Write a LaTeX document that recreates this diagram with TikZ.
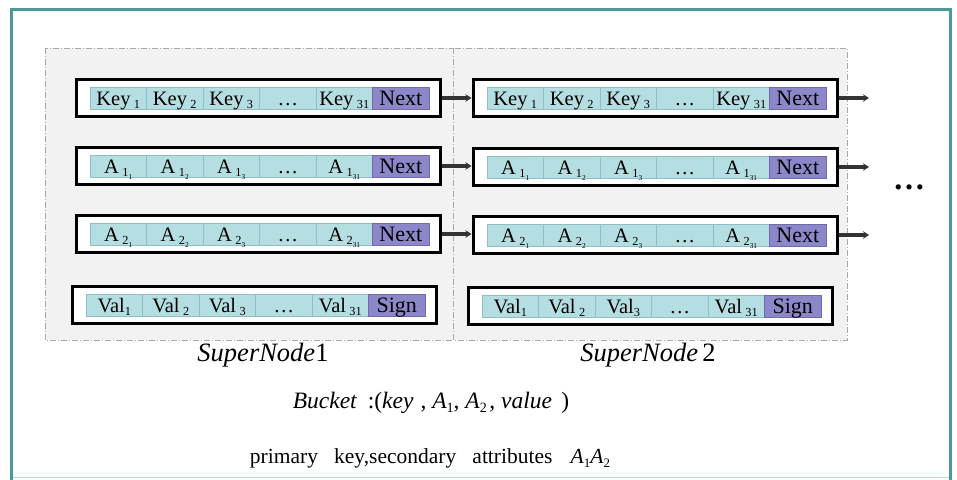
\documentclass[tikz,border=0pt]{standalone}
\usepackage{fontspec}
\setmainfont{Liberation Serif}
\usetikzlibrary{arrows.meta}

\definecolor{cellfill}{HTML}{B5DEE2}
\definecolor{celledge}{HTML}{8DBFC4}
\definecolor{nextfill}{HTML}{8C87C9}
\definecolor{nextedge}{HTML}{6F6AAE}
\definecolor{panelfill}{HTML}{F2F2F2}
\definecolor{paneledge}{HTML}{A8A8A8}
\definecolor{frameteal}{HTML}{4C9A98}
\definecolor{framelight}{HTML}{A8DCE0}
\definecolor{linkgray}{HTML}{333333}

% lowered, reduced subscript usable in text mode
\newcommand{\low}[1]{\raisebox{-0.4ex}{\scalebox{0.6}{#1}}}

\tikzset{
  panel/.style={draw=paneledge, fill=panelfill, line width=0.8pt,
    dash pattern=on 6pt off 2pt on 1pt off 2pt},
  wrapbox/.style={draw=black, fill=white, line width=3pt,
    minimum width=364pt, minimum height=37pt, inner sep=0pt},
  cell/.style={draw=celledge, fill=cellfill, line width=0.6pt,
    minimum width=56.5pt, minimum height=22pt, inner sep=0pt,
    text height=17pt, text depth=3pt,
    font=\fontsize{20.5}{22}\selectfont},
  tailcell/.style={cell, draw=nextedge, fill=nextfill,
    font=\fontsize{22}{24}\selectfont},
  link/.style={draw=linkgray, line width=3.5pt,
    -{Stealth[length=6pt,width=7.5pt]}},
  caption/.style={inner sep=0pt, font=\fontsize{26.5}{28}\selectfont},
}

% one bucket row: name, left x of the slot strip, centre y, five slot labels, tail label
\newcommand{\slotrow}[5]{%
  \node[wrapbox] (#1) at ({#2+168},#3) {};
  \foreach \lbl [count=\i] in {#4} {
    \node[cell] (#1-\i) at ({#2+(\i-0.5)*56.5},#3) {\lbl};
  }
  \node[tailcell] (#1-6) at ({#2+5.5*56.5},#3) {#5};
}

\begin{document}
\begin{tikzpicture}[x=1pt,y=-1pt]
  \useasboundingbox (0,0) rectangle (957,479);

  % outer frame
  \draw[framelight, line width=1.5pt] (11,477.5) -- (951,477.5);
  \draw[frameteal, line width=3pt] (11.5,480) -- (11.5,9.5) -- (950.5,9.5) -- (950.5,480);

  % the two super nodes
  \draw[panel] (45,48) rectangle (453,340);
  \draw[panel] (453,48) rectangle (847,340);

  % super node 1
  \slotrow{k1}{90}{98}{Key\,\low{1}, Key\,\low{2}, Key\,\low{3}, …, Key\,\low{31}}{Next}
  \slotrow{a1}{90}{166}{A\,\low{1\low{1}}, A\,\low{1\low{2}}, A\,\low{1\low{3}}, …, A\,\low{1\low{31}}}{Next}
  \slotrow{b1}{90}{234}{A\,\low{2\low{1}}, A\,\low{2\low{2}}, A\,\low{2\low{3}}, …, A\,\low{2\low{31}}}{Next}
  \slotrow{v1}{86}{305}{Val\low{1}, Val\,\low{2}, Val\,\low{3}, …, Val\,\low{31}}{Sign}

  % super node 2
  \slotrow{k2}{487}{98}{Key\,\low{1}, Key\,\low{2}, Key\,\low{3}, …, Key\,\low{31}}{Next}
  \slotrow{a2}{487}{167}{A\,\low{1\low{1}}, A\,\low{1\low{2}}, A\,\low{1\low{3}}, …, A\,\low{1\low{31}}}{Next}
  \slotrow{b2}{487}{235}{A\,\low{2\low{1}}, A\,\low{2\low{2}}, A\,\low{2\low{3}}, …, A\,\low{2\low{31}}}{Next}
  \slotrow{v2}{482}{306}{Val\low{1}, Val\,\low{2}, Val\low{3}, …, Val\,\low{31}}{Sign}

  % next pointers
  \coordinate (k3) at (869,98);
  \coordinate (a3) at (869,167);
  \coordinate (b3) at (869,235);
  \draw[link] (k1.east) -- (k1.east -| k2.west);
  \draw[link] (a1.east) -- (a1.east -| a2.west);
  \draw[link] (b1.east) -- (b1.east -| b2.west);
  \draw[link] (k2.east) -- (k3);
  \draw[link] (a2.east) -- (a3);
  \draw[link] (b2.east) -- (b3);

  \node[inner sep=0pt, font=\fontsize{32}{32}\selectfont\bfseries] (more) at (909,187) {…};

  % captions
  \node[caption] (sn1) at (263,355) {\textit{SuperNode}1};
  \node[caption] (sn2) at (648,355) {\textit{SuperNode}\,2};
  \node[inner sep=0pt, font=\fontsize{23.5}{25}\selectfont] (bucket) at (431,403)
    {\textit{Bucket}\hspace{0.45em}:(\textit{key}\hspace{0.3em}, \textit{A}\low{1}, \textit{A}\low{2}\hspace{0.1em}, \textit{value}\hspace{0.4em})};
  \node[inner sep=0pt, font=\fontsize{21.5}{23}\selectfont] (attrs) at (430,458)
    {primary\hspace{0.5em} key,secondary\hspace{0.5em} attributes\hspace{0.6em} \textit{A}\low{1}\textit{A}\low{2}};
\end{tikzpicture}
\end{document}
